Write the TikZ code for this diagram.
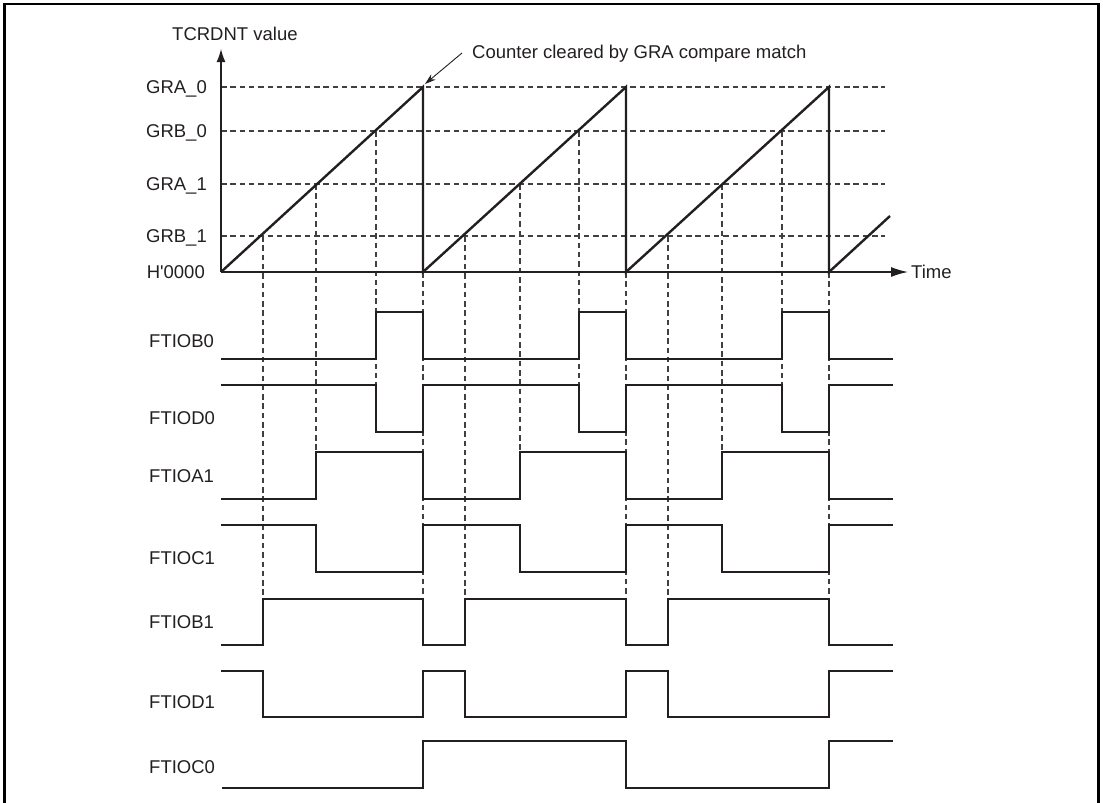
\documentclass[tikz,border=0pt]{standalone}
\usepackage{fontspec}
\setmainfont{Liberation Sans}
\usetikzlibrary{arrows.meta}
\definecolor{ink}{HTML}{231F20}
\definecolor{dash}{HTML}{404040}
\begin{document}
\begin{tikzpicture}[x=1pt,y=-1pt,
  every node/.style={font=\fontsize{18.5}{22}\selectfont, text=ink, inner sep=0pt},
  sig/.style={line width=2.4pt, color=ink, line join=miter},
  guide/.style={line width=1.2pt, color=dash, dash pattern=on 5.5pt off 3.8pt},
  axis/.style={line width=1.4pt, color=ink},
  frameline/.style={line width=2.6pt, color=black}]
\useasboundingbox (0,0) rectangle (1103,803);
% frame
\draw[frameline] (4.5,803) -- (4.5,4) -- (1098.5,4) -- (1098.5,803);

% named coordinates
\coordinate (O) at (221,272);
\coordinate (Ytip) at (221,49);
\coordinate (Xtip) at (908,272);

% horizontal guides
\foreach \lv in {87,131,184,236}
  \draw[guide] (221,\lv) -- (885,\lv);

% vertical guides
\foreach \x in {263,465,668} \draw[guide] (\x,236) -- (\x,599);
\foreach \x in {316,520,722} \draw[guide] (\x,184) -- (\x,452);
\foreach \x in {376,579,782} \draw[guide] (\x,131) -- (\x,385);
\foreach \x in {423,626,829} \draw[guide] (\x,272) -- (\x,599);

% axes
\draw[axis, -{Latex[length=13pt,width=9pt]}] (O) -- (Ytip);
\draw[axis, -{Latex[length=17pt,width=10pt]}] (O) -- (Xtip);

% value labels
\node[anchor=base west] (ylab) at (172,40) {TCRDNT value};
\node[anchor=base east] (lgra0) at (207,93.5) {GRA\_0};
\node[anchor=base east] (lgrb0) at (207,137.5) {GRB\_0};
\node[anchor=base east] (lgra1) at (207,190.5) {GRA\_1};
\node[anchor=base east] (lgrb1) at (207,242.5) {GRB\_1};
\node[anchor=base east] (lzero) at (205,278.5) {H\textquotesingle 0000};
\node[anchor=base west] (ltime) at (911,278.5) {Time};

% counter ramp
\draw[sig] (O) -- (423,87) -- (423,272) -- (626,87) -- (626,272) -- (829,87) -- (829,272) -- (890,216);

% annotation
\coordinate (peak) at (425,84);
\node[anchor=base west] (note) at (472,58) {Counter cleared by GRA compare match};
\draw[line width=0.9pt, color=ink, -{Stealth[length=11pt,width=7pt]}] (462,53) -- (peak);

% signal labels
\node[anchor=base west] (nB0) at (149,347) {FTIOB0};
\node[anchor=base west] (nD0) at (149,424) {FTIOD0};
\node[anchor=base west] (nA1) at (149,482) {FTIOA1};
\node[anchor=base west] (nC1) at (149,564) {FTIOC1};
\node[anchor=base west] (nB1) at (149,628) {FTIOB1};
\node[anchor=base west] (nD1) at (149,708) {FTIOD1};
\node[anchor=base west] (nC0) at (149,773) {FTIOC0};

% FTIOB0
\draw[sig] (221,359) -- (376,359) -- (376,312) -- (423,312) -- (423,359)
  -- (579,359) -- (579,312) -- (626,312) -- (626,359)
  -- (782,359) -- (782,312) -- (829,312) -- (829,359) -- (893,359);
% FTIOD0
\draw[sig] (221,385) -- (376,385) -- (376,432) -- (423,432) -- (423,385)
  -- (579,385) -- (579,432) -- (626,432) -- (626,385)
  -- (782,385) -- (782,432) -- (829,432) -- (829,385) -- (893,385);
% FTIOA1
\draw[sig] (221,499) -- (316,499) -- (316,452) -- (423,452) -- (423,499)
  -- (520,499) -- (520,452) -- (626,452) -- (626,499)
  -- (722,499) -- (722,452) -- (829,452) -- (829,499) -- (893,499);
% FTIOC1
\draw[sig] (221,525) -- (316,525) -- (316,572) -- (423,572) -- (423,525)
  -- (520,525) -- (520,572) -- (626,572) -- (626,525)
  -- (722,525) -- (722,572) -- (829,572) -- (829,525) -- (893,525);
% FTIOB1
\draw[sig] (221,645) -- (263,645) -- (263,599) -- (423,599) -- (423,645)
  -- (465,645) -- (465,599) -- (626,599) -- (626,645)
  -- (668,645) -- (668,599) -- (829,599) -- (829,645) -- (893,645);
% FTIOD1
\draw[sig] (221,671) -- (263,671) -- (263,717) -- (423,717) -- (423,671)
  -- (465,671) -- (465,717) -- (626,717) -- (626,671)
  -- (668,671) -- (668,717) -- (829,717) -- (829,671) -- (893,671);
% FTIOC0
\draw[sig] (222,788) -- (423,788) -- (423,741) -- (626,741) -- (626,788)
  -- (829,788) -- (829,741) -- (893,741);
\end{tikzpicture}
\end{document}
